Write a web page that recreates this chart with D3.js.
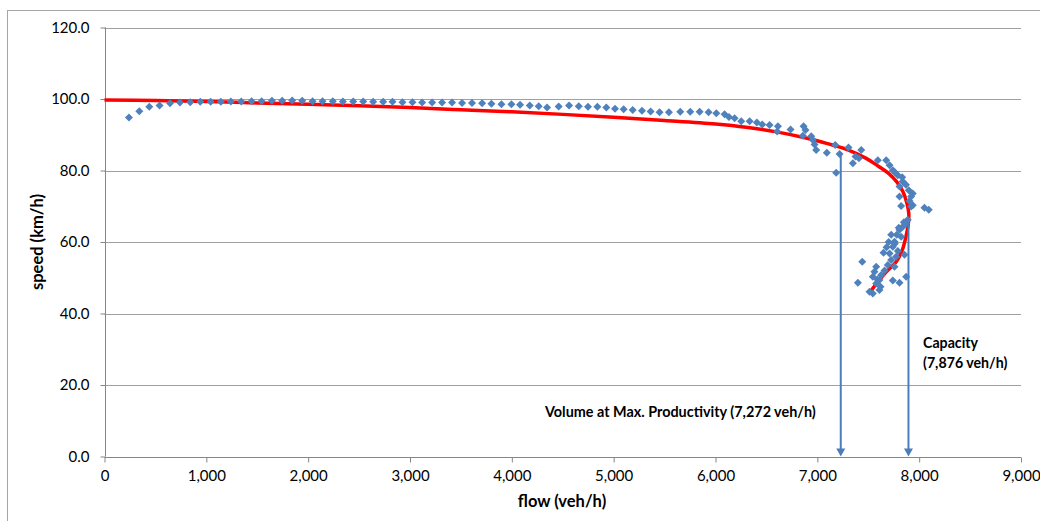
<!DOCTYPE html>
<html><head><meta charset="utf-8">
<script src="https://cdn.jsdelivr.net/npm/d3@7"></script>
<style>
html,body{margin:0;padding:0;background:#fff;}
svg text{font-family:Lato,"Open Sans",sans-serif;fill:#000;}
</style></head>
<body><svg id="c" width="1040" height="521"></svg>
<script>
// ---- data (flow veh/h, speed km/h) ----
const obsFlow = [240,342,440,541,643,741,842,940,1042,1143,1241,1343,1444,1543,1644,1745,1843,1941,2043,2141,2242,2341,2442,2540,2638,2736,
  2828,2926,3024,3119,3217,3315,3413,3511,3609,3708,3800,3898,3996,4081,4176,4264,4346,4460,4562,4657,4748,4840,4928,5013,5098,5187,5278,5363,5451,5543,
  5654,5752,5844,5932,6008,6089,6132,6188,6253,6335,6406,6459,6531,6613,6606,6737,6865,6884,6858,6940,6956,6973,6989,7093,7176,7218,7185,7306,7349,7375,7431,7408,
  7594,7676,7709,7741,7790,7833,7839,7807,7898,7937,7921,7807,7823,7921,7937,8052,8094,7760,7870,7905,
  7888,7872,7839,7807,7725,7823,7758,7741,7709,7774,7725,7692,7758,7578,7561,7545,7627,7610,7578,7398,7441,7741,7807,7872,7856,7610,7545,7512,
  7650,7680,7700,7780,7800,7850,7660,7590,7620,7790,7760];
const obsSpeed = [94.8,96.6,97.8,98.2,98.8,99.0,99.1,99.2,99.2,99.2,99.3,99.3,99.4,99.4,99.5,99.5,99.6,99.5,99.4,99.4,99.4,99.3,99.3,99.3,99.2,99.2,
  99.2,99.1,99.1,99.0,99.0,99.0,99.0,98.9,98.9,98.8,98.7,98.5,98.5,98.4,98.2,98.0,97.6,97.9,98.2,98.0,97.8,97.8,97.6,97.3,97.1,96.9,96.7,96.5,96.3,96.3,
  96.4,96.4,96.4,96.3,96.0,95.7,95.0,94.6,93.8,93.8,93.4,92.9,92.7,92.4,90.9,91.5,92.4,91.3,89.7,89.6,88.5,87.3,85.7,85.0,87.1,84.6,79.4,86.4,82.0,83.9,85.7,83.4,
  82.9,82.9,81.5,80.1,78.7,78.1,76.9,75.5,74.5,73.6,72.7,72.7,70.1,69.9,70.3,69.6,69.0,79.5,76.0,71.5,
  66.2,65.2,64.3,63.4,62.0,61.5,60.1,58.7,56.8,55.9,55.0,53.6,53.1,53.1,51.7,50.3,50.8,49.4,48.4,48.6,54.5,49.2,48.6,50.3,56.4,46.6,45.6,46.1,
  57.0,58.5,60.0,62.0,64.0,65.5,52.0,49.5,47.5,57.5,59.5];
const fitFlow  = [0,500,1000,1500,2000,2500,3000,3500,4000,4500,5000,5500,6000,6300,6600,6900,7100,7300,7480,7600,7700,7780,7840,7880,7898,7895,7870,7835,7775,7680,7610,7512];
const fitSpeed = [99.7,99.6,99.3,98.9,98.5,98.1,97.6,97.0,96.4,95.7,94.9,94.0,93.0,92.1,90.8,89.0,87.5,85.8,83.4,81.2,79.2,76.8,74.1,70.8,68.0,65.5,61.5,57.8,54.5,51.7,49.4,45.8];
const xTicks = [0,1000,2000,3000,4000,5000,6000,7000,8000,9000];
const yTicks = [0,20,40,60,80,100,120];
// annotation arrows: x position (flow) as drawn, top (speed) of arrow
const arrowFlow = [7230, 7895];
const arrowTop  = [85.2, 65.6];
const annoLabels = [["Volume at Max. Productivity (7,272 veh/h)"], ["Capacity","(7,876 veh/h)"]];

// ---- drawing ----
const svg = d3.select("#c");
const x = d3.scaleLinear().domain([0,9000]).range([104.5,1021]);
const y = d3.scaleLinear().domain([0,120]).range([456.5,27.5]);

svg.append("rect").attr("x",7.5).attr("y",10.5).attr("width",1100).attr("height",600)
  .attr("fill","none").attr("stroke","#a6a6a6");

// gridlines
svg.append("g").selectAll("line").data(yTicks.filter(d=>d>0)).join("line")
  .attr("x1",x(0)).attr("x2",x(9000)).attr("y1",d=>Math.round(y(d))+0.5).attr("y2",d=>Math.round(y(d))+0.5)
  .attr("stroke","#a0a0a0").attr("stroke-width",1);

// axes
const yAxis = d3.axisLeft(y).tickValues(yTicks).tickFormat(d3.format(".1f")).tickSize(5).tickPadding(11);
const gy = svg.append("g").attr("transform",`translate(${Math.round(x(0))+0.5},0)`).call(yAxis);
const xAxis = d3.axisBottom(x).tickValues(xTicks).tickFormat(d3.format(",")).tickSize(5).tickPadding(8);
const gx = svg.append("g").attr("transform",`translate(0,${Math.round(y(0))+0.5})`).call(xAxis);
[gx,gy].forEach(g=>{
  g.select(".domain").attr("stroke","#868686");
  g.selectAll(".tick line").attr("stroke","#868686");
  g.selectAll(".tick text").attr("font-family","Lato, 'Open Sans', sans-serif").attr("font-size",15).attr("fill","#000");
});
gx.select(".domain").attr("d",`M${x(0)},0H${x(9000)}`);
gy.select(".domain").attr("d",`M0,${y(0)}V${y(120)}`);

// axis titles
svg.append("text").attr("x",562).attr("y",507).attr("text-anchor","middle")
  .attr("font-size",16.5).attr("font-weight","bold").text("flow (veh/h)");
svg.append("text").attr("transform",`translate(43,${(y(0)+y(120))/2}) rotate(-90)`).attr("text-anchor","middle")
  .attr("font-size",16.5).attr("font-weight","bold").text("speed (km/h)");

// fitted curve
const fit = fitFlow.map((f,i)=>[f,fitSpeed[i]]);
svg.append("path").datum(fit)
  .attr("d", d3.line().x(d=>x(d[0])).y(d=>y(d[1])).curve(d3.curveCatmullRom.alpha(0.5)))
  .attr("fill","none").attr("stroke","#ff0000").attr("stroke-width",3.5);

// observations
const obs = obsFlow.map((f,i)=>[f,obsSpeed[i]]);
const sym = d3.symbol(d3.symbolSquare, 32);
svg.append("g").selectAll("path").data(obs).join("path")
  .attr("transform",d=>`translate(${x(d[0])},${y(d[1])}) rotate(45)`)
  .attr("d",sym).attr("fill","#4f81bd");

// arrows
const arr = arrowFlow.map((f,i)=>({f, t:arrowTop[i]}));
const ga = svg.append("g");
ga.selectAll("line").data(arr).join("line")
  .attr("x1",d=>x(d.f)).attr("x2",d=>x(d.f)).attr("y1",d=>y(d.t)).attr("y2",y(0)-7)
  .attr("stroke","#4a7ebb").attr("stroke-width",2);
ga.selectAll("path").data(arr).join("path")
  .attr("d",d=>{const cx=x(d.f), b=y(0); return `M${cx-4.5},${b-8}L${cx+4.5},${b-8}L${cx},${b}Z`;})
  .attr("fill","#4a7ebb");

// annotation labels
svg.append("text").attr("x",545).attr("y",417).attr("font-size",14.4).attr("font-weight","bold")
  .text(annoLabels[0][0]);
const cap = svg.append("text").attr("x",923).attr("y",348).attr("font-size",14.2).attr("font-weight","bold");
annoLabels[1].forEach((t,i)=>cap.append("tspan").attr("x",923).attr("dy",i?20:0).text(t));
</script></body></html>
